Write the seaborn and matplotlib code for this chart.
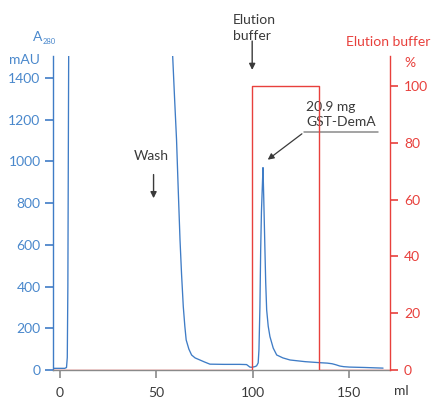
import matplotlib
matplotlib.use("Agg")
import matplotlib.pyplot as plt
import seaborn as sns
import pandas as pd

sns.set_style("white")
plt.rcParams['font.family'] = ['Lato', 'DejaVu Sans']

# UV absorbance trace (A280, mAU) vs volume (ml); values above the frame are clipped
volume_ml = [-3.5, 0, 2.5, 3.4, 3.8, 4.1, 4.4, 4.8, 6, 30, 56, 57.5, 58.4, 59.4, 60.4, 61.3, 62.2, 63.0,
             63.9, 64.7, 65.4, 66.8, 68.2, 70, 72.5, 75, 77.7, 85, 93, 96.7, 98.4, 99.3, 101.0, 101.9,
             102.7, 103.1, 103.6, 104.0, 104.4, 104.8, 105.2, 105.6, 106.2, 106.6, 107.1, 107.9, 108.8,
             110.5, 112.3, 115.5, 119.2, 127, 134.7, 138.5, 141, 143, 145, 147, 150, 158, 167.4]
a280_mau = [8, 8, 8, 12, 60, 400, 1200, 2200, 3200, 3400, 3200, 2000, 1505, 1300, 1105, 860, 625, 460,
            304, 210, 144, 100, 72, 58, 48, 38, 28, 27, 27, 26, 14, 13, 16, 20,
            34, 96, 300, 577, 760, 865, 970, 820, 577, 420, 288, 210, 160,
            105, 72, 58, 48, 40, 35, 33, 30, 25, 19, 16, 14, 12, 9]

# Elution buffer gradient (%) vs volume (ml)
buffer_ml = [-3.6, 99.6, 99.6, 134.0, 134.0, 171.0]
buffer_pct = [0, 0, 100, 100, 0, 0]

x_ticks = [0, 50, 100, 150]
left_ticks = [0, 200, 400, 600, 800, 1000, 1200, 1400]
right_ticks = [0, 20, 40, 60, 80, 100]

blue = '#3f7cc6'
blue_txt = '#4a88cc'
red = '#e8403c'
grey = '#8a8a8a'
dark = '#3a3a3a'
fs = 10

fig = plt.figure(figsize=(4.33, 3.99), dpi=100)
ax = fig.add_axes([53/433, 1-370/399, (390-53)/433, (370-56)/399])
ax2 = ax.twinx()

df = pd.DataFrame({'volume': volume_ml, 'a280': a280_mau})
sns.lineplot(data=df, x='volume', y='a280', ax=ax, color=blue, linewidth=0.95, sort=False,
             estimator=None, errorbar=None)
bdf = pd.DataFrame({'volume': buffer_ml, 'pct': buffer_pct})
sns.lineplot(data=bdf, x='volume', y='pct', ax=ax2, color=red, linewidth=1.0, sort=False,
             estimator=None, errorbar=None)

ax.set_xlim(-3.6, 171)
ax.set_ylim(0, 1505)
ax2.set_ylim(0, 110.5)
ax.set_xlabel('')
ax.set_ylabel('')
ax2.set_ylabel('')

for a in (ax, ax2):
    a.spines['top'].set_visible(False)
    a.patch.set_visible(False)
    a.grid(False)
ax.spines['right'].set_visible(False)
ax.spines['left'].set_color(blue)
ax.spines['bottom'].set_color(grey)
ax2.spines['left'].set_visible(False)
ax2.spines['bottom'].set_visible(False)
ax2.spines['right'].set_color(red)
for s in ('left', 'bottom'):
    ax.spines[s].set_linewidth(1.0)
ax2.spines['right'].set_linewidth(1.0)

ax.set_xticks(x_ticks)
ax.set_yticks(left_ticks)
ax2.set_yticks(right_ticks)
ax.tick_params(axis='x', direction='out', length=6, width=1.2, color=grey, labelcolor=dark,
               labelsize=fs, pad=6, bottom=True)
ax.tick_params(axis='y', direction='out', length=6, width=1.2, color=blue, labelcolor=blue_txt,
               labelsize=fs, pad=3, left=True)
ax2.tick_params(axis='y', direction='out', length=6, width=1.2, color=red, labelcolor=red,
                labelsize=fs, pad=4, right=True)

# Axis unit labels
fig.text(33/433, 1-37/399, 'A', color=blue_txt, fontsize=fs, va='center', ha='left')
fig.text(43/433, 1-42/399, '280', color=blue_txt, fontsize=5.5, va='center', ha='left')
fig.text(40/433, 1-60/399, 'mAU', color=blue_txt, fontsize=fs, va='center', ha='right')
fig.text(430/433, 1-42/399, 'Elution buffer', color=red, fontsize=fs, va='center', ha='right')
fig.text(404/433, 1-63/399, '%', color=red, fontsize=fs, va='center', ha='left')
fig.text(394/433, 1-391/399, 'ml', color=dark, fontsize=fs, va='center', ha='left')

# Annotations
fig.text(233/433, 1-28/399, 'Elution\nbuffer', color=dark, fontsize=fs, va='center', ha='left',
         linespacing=1.35)
ax.annotate('', xy=(99.6, 1425), xytext=(99.6, 1590), annotation_clip=False,
            arrowprops=dict(arrowstyle='-|>', color=dark, lw=1.0, mutation_scale=9))
ax.text(47.5, 1025, 'Wash', color=dark, fontsize=fs, ha='center', va='center')
ax.annotate('', xy=(48.5, 810), xytext=(48.5, 950),
            arrowprops=dict(arrowstyle='-|>', color=dark, lw=1.0, mutation_scale=9))
ax.text(127.5, 1225, '20.9 mg\nGST-DemA', color=dark, fontsize=fs, ha='left', va='center',
        linespacing=1.3)
ax.plot([126.5, 165], [1140, 1140], color=grey, lw=1.1)
ax.annotate('', xy=(106.5, 1000), xytext=(126.5, 1140),
            arrowprops=dict(arrowstyle='-|>', color=dark, lw=0.9, mutation_scale=9))

fig.savefig('out.png', dpi=100)
